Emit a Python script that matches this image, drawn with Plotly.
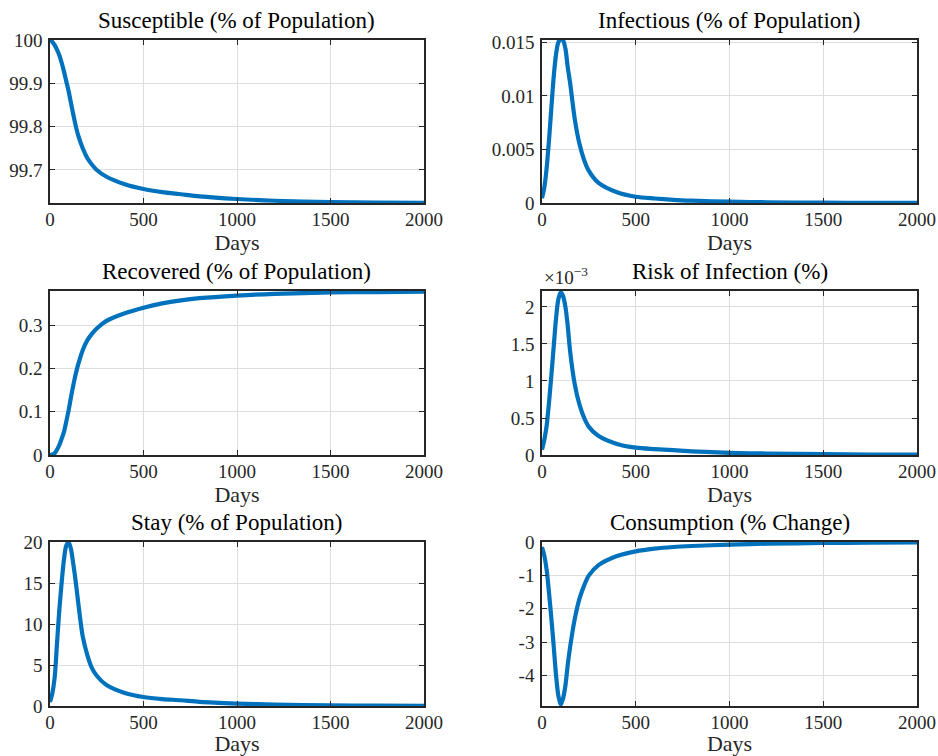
import plotly.graph_objects as go

# ---- data ----
days = [0, 12, 25, 37, 50, 62, 75, 87, 100, 112, 125, 137, 150, 175, 200, 225, 250,
        300, 400, 500, 600, 700, 800, 1000, 1200, 1500, 1750, 2000]

susceptible = [100.0, 99.996, 99.988, 99.978, 99.965, 99.948, 99.927, 99.905, 99.881, 99.855,
               99.827, 99.803, 99.781, 99.750, 99.727, 99.712, 99.700, 99.685, 99.667, 99.656,
               99.649, 99.644, 99.639, 99.633, 99.629, 99.626, 99.625, 99.624]

infectious = [0.00044, 0.0014, 0.0033, 0.0058, 0.0089, 0.0117, 0.0139, 0.0150, 0.0153, 0.0152,
              0.0144, 0.0127, 0.0112, 0.0078, 0.0055, 0.0040, 0.0030, 0.0019, 0.0010, 0.00058,
              0.00042, 0.00030, 0.00022, 0.00012, 0.00007, 0.00003, 0.00002, 0.00001]

recovered = [0.0, 0.001, 0.004, 0.012, 0.023, 0.037, 0.054, 0.077, 0.104, 0.133,
             0.162, 0.186, 0.208, 0.242, 0.265, 0.280, 0.292, 0.309, 0.327, 0.340,
             0.350, 0.357, 0.362, 0.368, 0.372, 0.375, 0.376, 0.377]

risk = [0.07e-3, 0.20e-3, 0.40e-3, 0.70e-3, 1.08e-3, 1.45e-3, 1.85e-3, 2.10e-3, 2.20e-3, 2.15e-3,
        2.00e-3, 1.75e-3, 1.40e-3, 0.95e-3, 0.68e-3, 0.50e-3, 0.38e-3, 0.26e-3, 0.15e-3, 0.10e-3,
        0.08e-3, 0.065e-3, 0.05e-3, 0.03e-3, 0.02e-3, 0.012e-3, 0.007e-3, 0.004e-3]

stay = [0.5, 1.5, 3.5, 7.5, 11.8, 15.0, 18.0, 19.6, 20.0, 19.2,
        17.3, 15.3, 12.8, 8.5, 6.2, 4.6, 3.7, 2.6, 1.6, 1.1,
        0.85, 0.7, 0.5, 0.3, 0.18, 0.08, 0.04, 0.02]

consumption = [-0.15, -0.4, -0.85, -1.5, -2.3, -3.1, -4.0, -4.6, -4.88, -4.7,
               -4.3, -3.7, -3.15, -2.3, -1.7, -1.3, -1.0, -0.7, -0.42, -0.28,
               -0.2, -0.15, -0.12, -0.08, -0.05, -0.03, -0.02, -0.01]

titles = ["Susceptible (% of Population)", "Infectious (% of Population)",
          "Recovered (% of Population)", "Risk of Infection (%)",
          "Stay (% of Population)", "Consumption (% Change)"]

x_ticks = [0, 500, 1000, 1500, 2000]
x_ticklabels = ["0", "500", "1000", "1500", "2000"]

y_ticks = [
    [99.7, 99.8, 99.9, 100.0],
    [0, 0.005, 0.01, 0.015],
    [0, 0.1, 0.2, 0.3],
    [0, 0.5e-3, 1.0e-3, 1.5e-3, 2.0e-3],
    [0, 5, 10, 15, 20],
    [-4, -3, -2, -1, 0],
]
y_ticklabels = [
    ["99.7", "99.8", "99.9", "100"],
    ["0", "0.005", "0.01", "0.015"],
    ["0", "0.1", "0.2", "0.3"],
    ["0", "0.5", "1", "1.5", "2"],
    ["0", "5", "10", "15", "20"],
    ["-4", "-3", "-2", "-1", "0"],
]
y_ranges = [
    [99.6238, 100.0],
    [0, 0.01522],
    [0, 0.3785],
    [0, 2.216e-3],
    [0, 20.05],
    [-4.92, 0],
]

series = [susceptible, infectious, recovered, risk, stay, consumption]

# ---- layout geometry ----
W, H = 938, 756
col_px = [(50, 424), (542, 917)]
row_px = [(40, 203), (291, 455), (542, 706)]

FONT = "Liberation Serif"
DARK = "#262626"
BLUE = "#0072BD"

fig = go.Figure()
annotations = []

for i, ys in enumerate(series):
    r, c = divmod(i, 2)
    n = i + 1
    xa = "x" if n == 1 else f"x{n}"
    ya = "y" if n == 1 else f"y{n}"
    fig.add_trace(go.Scatter(
        x=days, y=ys, mode="lines", xaxis=xa, yaxis=ya,
        line=dict(color=BLUE, width=4.2, shape="spline", smoothing=0.8),
        showlegend=False, hoverinfo="skip"))

    x0, x1 = col_px[c]
    t, b = row_px[r]
    xdom = [x0 / W, x1 / W]
    ydom = [1 - b / H, 1 - t / H]
    common = dict(showline=True, linecolor=DARK, linewidth=1.6, mirror="allticks",
                  ticks="inside", ticklen=5, tickwidth=1.2, tickcolor=DARK,
                  showgrid=True, gridcolor="#dedede", gridwidth=1, zeroline=False,
                  automargin=False,
                  tickfont=dict(family=FONT, size=19, color=DARK))
    fig.layout[f"xaxis{'' if n == 1 else n}"] = dict(
        domain=xdom, anchor=ya, range=[0, 2000], tickvals=x_ticks, ticktext=x_ticklabels,
        title=dict(text="Days", font=dict(family=FONT, size=22, color=DARK), standoff=4),
        ticklabelstandoff=-2, **common)
    fig.layout[f"yaxis{'' if n == 1 else n}"] = dict(
        domain=ydom, anchor=xa, range=y_ranges[i], tickvals=y_ticks[i], ticktext=y_ticklabels[i],
        ticklabelstandoff=2, **common)

    annotations.append(dict(
        text=titles[i], xref="paper", yref="paper", x=(xdom[0] + xdom[1]) / 2, y=ydom[1],
        xanchor="center", yanchor="bottom", yshift=5, showarrow=False,
        font=dict(family=FONT, size=23, color="#000000")))

# x10^-3 exponent label for Risk of Infection
annotations.append(dict(
    text="×10<sup>−3</sup>", xref="paper", yref="paper", x=col_px[1][0] / W,
    y=1 - row_px[1][0] / H, xanchor="left", yanchor="bottom", yshift=1, showarrow=False,
    font=dict(family=FONT, size=19, color=DARK)))

fig.update_layout(width=W, height=H, margin=dict(l=0, r=0, t=0, b=0),
                  paper_bgcolor="white", plot_bgcolor="white", template="none",
                  annotations=annotations)

fig.write_html("out.html", config={"displayModeBar": False},
               post_script="document.body.style.margin='0';document.body.style.overflow='hidden';")
